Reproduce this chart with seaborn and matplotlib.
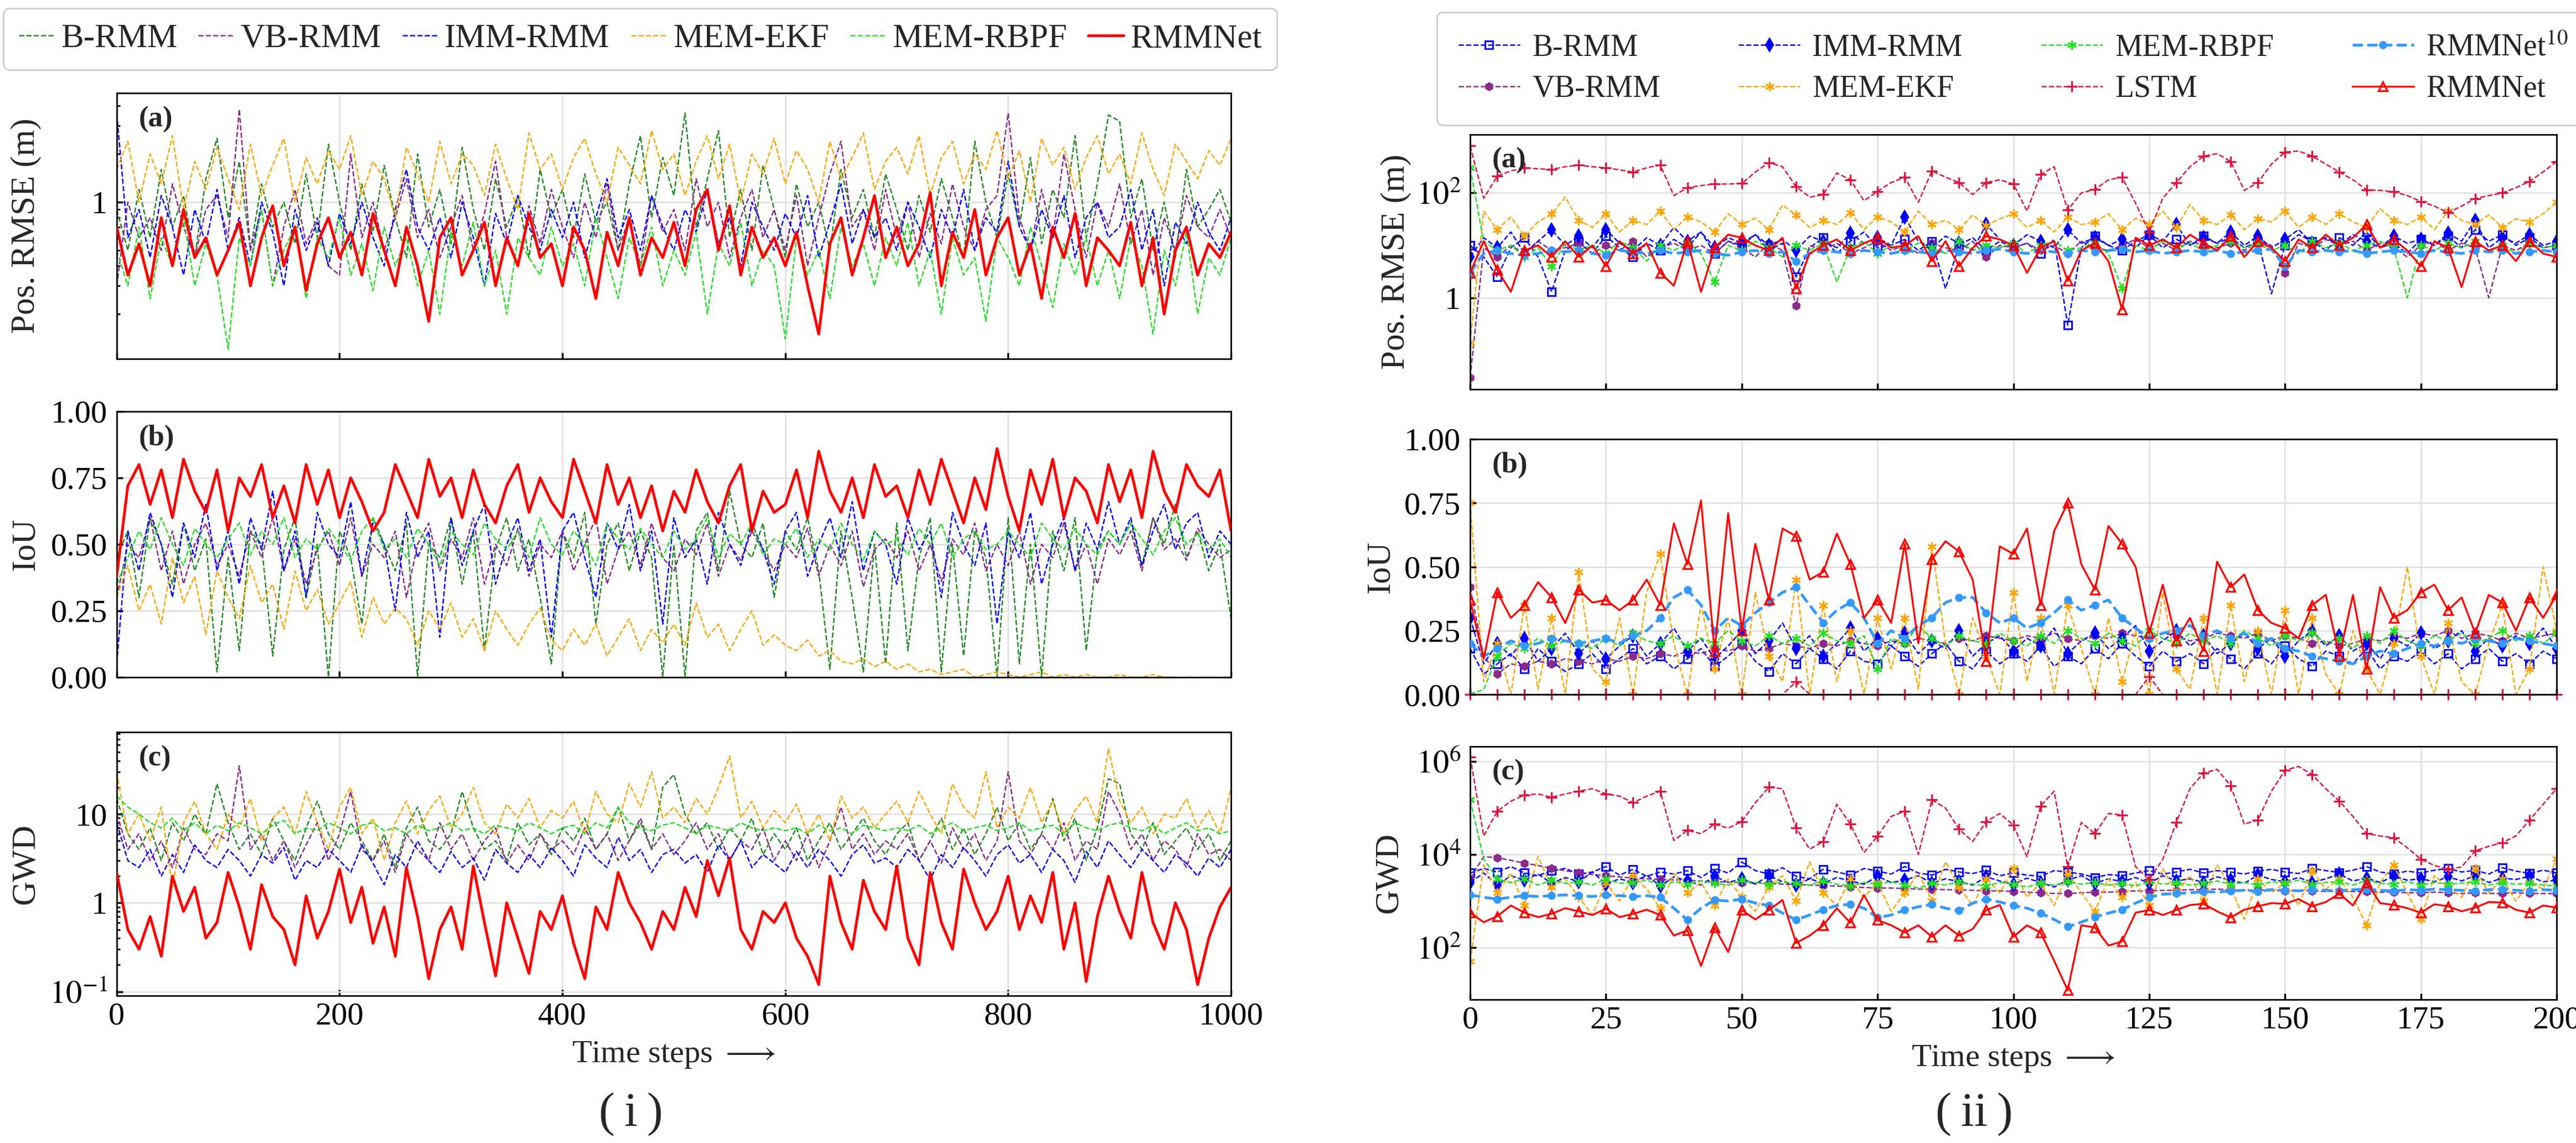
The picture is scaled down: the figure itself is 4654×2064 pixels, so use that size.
import numpy as np
import matplotlib
matplotlib.use("Agg")
import matplotlib.pyplot as plt
from matplotlib.ticker import FixedLocator, FuncFormatter, LogLocator, NullFormatter, FormatStrFormatter
import seaborn as sns

# ---------------- time axes ----------------
steps_i = np.arange(0, 1001, 10)        # run (i): 1000 steps, read every 10
steps_ii = np.arange(0, 200.01, 2.5)    # run (ii): 200 steps, read every 2.5

# ---------------- (i) Pos. RMSE ----------------
rmse_i_brmm = [0.9, 0.5, 1.2, 0.6, 1.6, 0.7, 1.1, 0.45, 1.4, 2.5,
               0.8, 1.8, 0.5, 1.3, 0.7, 1.0, 0.55, 1.5, 0.6, 2.3,
               1.0, 0.5, 1.3, 0.65, 1.7, 0.8, 0.45, 2.0, 0.7, 1.2,
               0.55, 2.2, 0.9, 0.5, 1.4, 0.7, 1.1, 0.45, 1.6, 0.8,
               1.2, 0.6, 1.5, 0.75, 1.0, 0.5, 1.3, 2.6, 0.8, 1.9,
               1.1, 3.6, 0.7, 1.4, 2.8, 0.6, 1.2, 0.5, 1.7, 0.9,
               0.45, 1.3, 0.7, 1.0, 0.5, 1.6, 0.8, 1.2, 0.6, 1.5,
               0.9, 0.5, 1.1, 0.65, 1.4, 0.8, 0.45, 2.4, 1.0, 0.6,
               1.5, 0.7, 1.9, 0.55, 1.2, 0.8, 2.6, 0.6, 1.3, 3.5,
               3.2, 0.8, 1.4, 0.5, 1.0, 0.45, 1.6, 0.7, 0.9, 1.2,
               0.75]
rmse_i_vbrmm = [0.3, 1.0, 0.6, 0.8, 0.5, 1.3, 0.7, 0.45, 0.9, 1.1,
                0.6, 3.8, 0.5, 0.9, 0.3, 0.7, 1.2, 0.55, 0.8, 0.4,
                0.35, 2.0, 0.6, 1.0, 0.5, 0.8, 1.4, 0.6, 0.9, 0.45,
                0.7, 1.1, 0.5, 0.85, 1.8, 0.6, 0.4, 0.95, 0.55, 1.2,
                0.7, 0.45, 1.0, 0.6, 1.3, 0.5, 0.8, 0.4, 1.1, 0.65,
                0.9, 0.5, 1.4, 0.7, 1.0, 0.45, 0.8, 1.2, 0.6, 0.9,
                0.5, 1.1, 0.4, 0.8, 1.5, 2.4, 0.7, 0.9, 0.5, 1.2,
                0.6, 1.0, 0.45, 0.85, 0.55, 1.3, 0.7, 0.5, 0.9, 1.1,
                3.6, 0.8, 0.5, 1.2, 0.6, 2.0, 0.9, 0.45, 1.0, 0.7,
                1.3, 0.55, 0.9, 0.35, 0.8, 0.5, 1.1, 0.7, 0.6, 0.9,
                0.6]
rmse_i_imm = [3.6, 0.6, 0.9, 0.45, 1.1, 0.7, 0.35, 0.9, 0.55, 1.2,
              0.5, 0.8, 0.4, 1.0, 0.65, 0.3, 0.9, 0.5, 0.75, 0.4,
              0.85, 0.55, 1.0, 0.6, 0.4, 0.9, 1.6, 0.7, 0.5, 0.8,
              0.45, 1.0, 0.6, 0.3, 0.85, 0.55, 1.1, 0.7, 0.5, 0.9,
              0.6, 1.0, 0.45, 0.8, 1.4, 0.6, 0.9, 0.5, 1.1, 0.7,
              0.5, 0.9, 0.65, 1.2, 0.55, 0.8, 0.4, 1.0, 0.7, 0.5,
              0.85, 0.6, 1.1, 0.45, 0.75, 1.3, 0.55, 0.9, 0.6, 0.8,
              0.5, 1.0, 0.7, 0.45, 0.9, 0.6, 1.2, 0.5, 0.8, 0.65,
              1.8, 0.7, 0.5, 0.9, 0.6, 1.1, 0.45, 0.8, 1.0, 0.6,
              0.7, 1.2, 0.5, 0.9, 0.3, 0.75, 0.55, 1.0, 0.65, 0.5,
              0.8]
rmse_i_ekf = [1.6, 2.4, 1.0, 2.0, 1.3, 2.6, 0.9, 1.8, 1.2, 2.2,
              1.4, 0.9, 2.3, 1.1, 1.7, 2.5, 1.0, 1.9, 1.3, 2.1,
              1.6, 2.6, 1.1, 1.8, 1.4, 0.8, 2.2, 1.5, 1.0, 2.4,
              1.3, 2.0, 1.7, 1.1, 2.3, 1.4, 0.9, 2.7, 1.6, 2.0,
              1.2, 1.9, 2.5, 1.5, 1.0, 2.2, 1.7, 1.3, 2.8, 1.6,
              2.0, 1.1, 1.8, 2.6, 1.4, 2.3, 1.0, 2.0, 1.5, 2.5,
              1.3, 2.1, 1.6, 1.0, 2.4, 1.4, 1.9, 2.7, 1.2, 1.8,
              2.2, 1.5, 2.6, 1.1, 1.9, 2.4, 1.3, 2.0, 1.6, 2.8,
              1.4, 2.1, 1.0, 2.5, 1.7, 2.2, 1.2, 1.9, 2.6, 1.5,
              2.0, 1.3, 2.7, 1.6, 1.1, 2.3, 1.8, 1.4, 2.1, 1.7,
              2.5]
rmse_i_rbpf = [0.5, 0.3, 0.7, 0.25, 0.6, 0.4, 0.8, 0.3, 0.55, 0.35,
               0.12, 0.6, 0.4, 0.9, 0.3, 0.5, 0.7, 0.25, 0.6, 0.45,
               0.8, 0.35, 0.55, 0.28, 0.7, 0.4, 0.6, 0.3, 0.5, 0.2,
               0.65, 0.4, 0.75, 0.3, 0.5, 0.2, 0.6, 0.45, 0.35, 0.7,
               0.4, 0.55, 0.3, 0.8, 0.45, 0.25, 0.6, 0.4, 0.7, 0.3,
               0.5, 0.35, 0.65, 0.2, 0.55, 0.4, 0.75, 0.3, 0.5, 0.4,
               0.14, 0.6, 0.35, 0.5, 0.25, 0.7, 0.4, 0.55, 0.3, 0.6,
               0.4, 0.75, 0.3, 0.5, 0.2, 0.6, 0.35, 0.45, 0.18, 0.6,
               0.45, 0.3, 0.7, 0.4, 0.22, 0.55, 0.35, 0.6, 0.3, 0.5,
               0.25, 0.6, 0.4, 0.15, 0.5, 0.3, 0.65, 0.2, 0.45, 0.35,
               0.6]
rmse_i_net = [0.7, 0.35, 0.55, 0.3, 0.8, 0.4, 0.9, 0.45, 0.6, 0.35,
              0.5, 0.75, 0.3, 0.6, 0.95, 0.4, 0.7, 0.28, 0.55, 0.8,
              0.45, 0.65, 0.35, 0.85, 0.5, 0.3, 0.7, 0.4, 0.18, 0.6,
              0.8, 0.35, 0.5, 0.75, 0.3, 0.6, 0.4, 0.85, 0.45, 0.55,
              0.3, 0.7, 0.5, 0.25, 0.65, 0.4, 0.8, 0.35, 0.6, 0.45,
              0.75, 0.4, 0.9, 1.2, 0.5, 0.95, 0.35, 0.7, 0.45, 0.6,
              0.4, 0.65, 0.3, 0.15, 0.55, 0.8, 0.35, 0.6, 1.1, 0.45,
              0.7, 0.4, 0.55, 1.15, 0.3, 0.65, 0.45, 0.9, 0.35, 0.6,
              0.8, 0.35, 0.55, 0.25, 0.7, 0.45, 0.85, 0.3, 0.6, 0.5,
              0.4, 0.75, 0.3, 0.6, 0.2, 0.5, 0.7, 0.35, 0.55, 0.45,
              0.65]

# ---------------- (i) IoU ----------------
iou_i_brmm = [0.45, 0.55, 0.3, 0.6, 0.5, 0.35, 0.58, 0.4, 0.52, 0.02,
              0.45, 0.1, 0.55, 0.5, 0.08, 0.48, 0.6, 0.3, 0.5, 0.0,
              0.55, 0.45, 0.2, 0.6, 0.5, 0.4, 0.58, 0.0, 0.5, 0.45,
              0.6, 0.35, 0.55, 0.1, 0.48, 0.6, 0.4, 0.52, 0.3, 0.05,
              0.55, 0.45, 0.62, 0.2, 0.5, 0.58, 0.4, 0.55, 0.45, 0.0,
              0.5, 0.0, 0.55, 0.62, 0.4, 0.7, 0.5, 0.45, 0.58, 0.3,
              0.55, 0.48, 0.6, 0.4, 0.03, 0.55, 0.3, 0.02, 0.5, 0.05,
              0.58, 0.1, 0.45, 0.6, 0.02, 0.5, 0.08, 0.55, 0.45, 0.0,
              0.6, 0.05, 0.5, 0.0, 0.55, 0.4, 0.6, 0.1, 0.48, 0.55,
              0.5, 0.58, 0.42, 0.6, 0.5, 0.65, 0.45, 0.55, 0.4, 0.5,
              0.22]
iou_i_vbrmm = [0.3, 0.5, 0.45, 0.6, 0.4, 0.55, 0.35, 0.5, 0.58, 0.42,
               0.5, 0.38, 0.55, 0.45, 0.6, 0.4, 0.52, 0.35, 0.48, 0.55,
               0.42, 0.6, 0.38, 0.5, 0.45, 0.55, 0.3, 0.5, 0.58, 0.4,
               0.52, 0.45, 0.6, 0.35, 0.5, 0.42, 0.56, 0.38, 0.5, 0.45,
               0.55, 0.4, 0.5, 0.6, 0.35, 0.48, 0.55, 0.42, 0.58, 0.45,
               0.4, 0.52, 0.46, 0.58, 0.38, 0.5, 0.44, 0.55, 0.48, 0.4,
               0.5, 0.45, 0.56, 0.38, 0.5, 0.42, 0.55, 0.34, 0.48, 0.52,
               0.45, 0.55, 0.4, 0.5, 0.36, 0.52, 0.46, 0.58, 0.4, 0.5,
               0.42, 0.55, 0.35, 0.5, 0.45, 0.58, 0.4, 0.5, 0.35, 0.52,
               0.46, 0.55, 0.4, 0.6, 0.48, 0.52, 0.44, 0.56, 0.5, 0.45,
               0.48]
iou_i_imm = [0.05, 0.55, 0.4, 0.62, 0.5, 0.3, 0.58, 0.45, 0.65, 0.4,
             0.55, 0.35, 0.6, 0.48, 0.7, 0.4, 0.55, 0.3, 0.62, 0.5,
             0.45, 0.66, 0.38, 0.58, 0.5, 0.25, 0.62, 0.45, 0.55, 0.15,
             0.6, 0.42, 0.55, 0.65, 0.35, 0.5, 0.6, 0.4, 0.52, 0.15,
             0.55, 0.62, 0.45, 0.3, 0.58, 0.48, 0.65, 0.4, 0.55, 0.2,
             0.6, 0.45, 0.52, 0.35, 0.62, 0.5, 0.42, 0.58, 0.48, 0.35,
             0.55, 0.62, 0.38, 0.5, 0.6, 0.45, 0.66, 0.4, 0.55, 0.5,
             0.35, 0.6, 0.48, 0.55, 0.3, 0.62, 0.5, 0.42, 0.58, 0.2,
             0.55, 0.45, 0.62, 0.35, 0.5, 0.6, 0.4, 0.58, 0.48, 0.66,
             0.5, 0.6, 0.42, 0.55, 0.65, 0.48, 0.58, 0.62, 0.45, 0.55,
             0.5]
iou_i_ekf = [0.3, 0.42, 0.25, 0.35, 0.2, 0.45, 0.28, 0.38, 0.16, 0.4,
             0.3, 0.22, 0.42, 0.28, 0.35, 0.18, 0.4, 0.25, 0.33, 0.2,
             0.28, 0.36, 0.15, 0.3, 0.2, 0.26, 0.22, 0.12, 0.25, 0.18,
             0.28, 0.15, 0.22, 0.1, 0.25, 0.18, 0.12, 0.2, 0.26, 0.14,
             0.1, 0.18, 0.12, 0.2, 0.08, 0.15, 0.22, 0.1, 0.18, 0.13,
             0.2, 0.12, 0.28, 0.15, 0.2, 0.1, 0.18, 0.25, 0.12, 0.16,
             0.12, 0.1, 0.14, 0.08, 0.1, 0.06, 0.05, 0.07, 0.04, 0.06,
             0.03, 0.05, 0.02, 0.03, 0.01, 0.02, 0.03, 0.0, 0.01, 0.02,
             0.01, 0.0, 0.01, 0.02, 0.0, 0.01, 0.0, 0.01, 0.0, 0.0,
             0.01, 0.0, 0.0, 0.01, 0.0, 0.0, 0.0, 0.0, 0.0, 0.0,
             0.0]
iou_i_rbpf = [0.35, 0.45, 0.55, 0.48, 0.6, 0.5, 0.42, 0.56, 0.5, 0.45,
              0.52, 0.58, 0.46, 0.55, 0.5, 0.6, 0.45, 0.52, 0.48, 0.56,
              0.5, 0.44, 0.55, 0.6, 0.48, 0.52, 0.45, 0.56, 0.5, 0.42,
              0.55, 0.5, 0.46, 0.58, 0.52, 0.48, 0.55, 0.45, 0.6, 0.5,
              0.46, 0.55, 0.5, 0.42, 0.58, 0.52, 0.48, 0.56, 0.5, 0.45,
              0.55, 0.48, 0.52, 0.6, 0.45, 0.54, 0.5, 0.58, 0.46, 0.52,
              0.5, 0.56, 0.45, 0.52, 0.48, 0.58, 0.5, 0.44, 0.55, 0.5,
              0.52, 0.46, 0.56, 0.5, 0.58, 0.45, 0.52, 0.55, 0.48, 0.5,
              0.55, 0.5, 0.45, 0.58, 0.52, 0.48, 0.56, 0.5, 0.46, 0.55,
              0.5, 0.58, 0.52, 0.46, 0.55, 0.6, 0.5, 0.54, 0.48, 0.52,
              0.45]
iou_i_net = [0.38, 0.72, 0.8, 0.65, 0.78, 0.6, 0.82, 0.7, 0.62, 0.78,
             0.55, 0.75, 0.68, 0.8, 0.6, 0.72, 0.58, 0.8, 0.65, 0.78,
             0.6, 0.75, 0.66, 0.55, 0.62, 0.8, 0.7, 0.6, 0.82, 0.68,
             0.75, 0.6, 0.78, 0.65, 0.58, 0.72, 0.8, 0.62, 0.75, 0.66,
             0.6, 0.82, 0.7, 0.58, 0.8, 0.65, 0.75, 0.6, 0.72, 0.55,
             0.7, 0.62, 0.78, 0.66, 0.58, 0.72, 0.8, 0.55, 0.7, 0.62,
             0.65, 0.78, 0.6, 0.85, 0.7, 0.62, 0.75, 0.6, 0.8, 0.68,
             0.72, 0.6, 0.78, 0.65, 0.82, 0.7, 0.58, 0.75, 0.63, 0.86,
             0.68, 0.55, 0.78, 0.65, 0.82, 0.6, 0.75, 0.7, 0.58, 0.8,
             0.66, 0.78, 0.6, 0.85, 0.7, 0.62, 0.8, 0.72, 0.68, 0.78,
             0.55]

# ---------------- (i) GWD ----------------
gwd_i_brmm = [15, 6, 4, 7, 3, 8, 5, 10, 6, 22,
              8, 4, 6, 3.5, 9, 5, 3, 7, 14, 6,
              4, 8, 5, 3, 6, 2.5, 7, 12, 5, 4,
              6, 18, 7, 4, 5, 3, 8, 4.5, 6, 3.5,
              7, 5, 9, 4, 6, 12, 5, 8, 4, 20,
              28, 10, 6, 8, 4, 7, 5, 9, 3.5, 6,
              4, 7, 3, 5, 8, 4, 6, 9, 5, 3.5,
              6, 8, 3, 5, 9, 4, 7, 3.5, 6, 12,
              5, 8, 4, 6, 15, 5, 9, 3, 7, 25,
              22, 6, 4, 8, 3.5, 5, 7, 4, 6, 3,
              5]
gwd_i_vbrmm = [10, 4, 6, 3, 5, 2.5, 7, 4, 3.5, 6,
               5, 35, 4, 6, 3, 5, 2.5, 4.5, 8, 3,
               6, 18, 4, 3, 5, 2.2, 6, 4, 3, 8,
               4, 6, 3, 5, 7, 2.8, 4.5, 3, 6, 4,
               5, 3.5, 7, 4, 6, 3, 5, 9, 4, 6,
               3.5, 5, 8, 4, 6, 3, 5, 4, 7, 3,
               5, 3, 6, 2.5, 5, 12, 4, 6, 3.5, 5,
               4, 6, 3, 5, 2.8, 7, 4, 6, 3, 5,
               30, 5, 3.5, 6, 4, 8, 3, 5, 4, 18,
               10, 4, 6, 3, 5, 4, 2.5, 6, 3.5, 4,
               3]
gwd_i_imm = [8, 3, 2.5, 4, 2, 3.5, 2.2, 4.5, 3, 2.5,
             4, 3, 2, 3.5, 2.8, 4.2, 1.8, 3, 2.5, 4,
             3, 2.2, 4.5, 2.8, 1.6, 3.5, 2.5, 5, 3, 2.2,
             3.8, 2.5, 3.2, 1.8, 4, 2.8, 2.2, 3.5, 2.5, 4.2,
             3, 2, 4.5, 3.2, 2.5, 5.5, 3, 4, 2.2, 3.5,
             4, 2.8, 3.5, 2.2, 4.5, 3, 5, 2.5, 3.5, 2.8,
             2.2, 3.8, 2.5, 4, 3, 2, 3.5, 4.5, 2.8, 3.2,
             2.5, 4, 3, 1.8, 3.5, 2.5, 4.2, 3, 2, 3.5,
             4.5, 2.8, 3.5, 2.2, 4, 3, 1.7, 3.8, 2.5, 5,
             3.5, 2.5, 4, 3, 2.2, 3.5, 2.8, 2, 3.2, 2.5,
             4]
gwd_i_ekf = [30, 6, 10, 5, 12, 1.5, 8, 14, 6, 4,
             10, 7, 15, 5, 9, 12, 6, 18, 8, 4,
             12, 20, 6, 9, 3, 8, 14, 6, 11, 16,
             7, 10, 20, 8, 6, 13, 9, 15, 7, 11,
             9, 14, 6, 18, 10, 8, 22, 12, 30, 9,
             12, 8, 15, 10, 20, 45, 9, 14, 7, 11,
             8, 13, 6, 10, 5, 16, 9, 12, 7, 10,
             14, 8, 18, 10, 6, 22, 12, 9, 30, 7,
             12, 9, 20, 8, 14, 6, 11, 16, 8, 55,
             14, 8, 12, 6, 10, 9, 15, 7, 11, 6,
             20]
gwd_i_rbpf = [16, 12, 10, 8, 7, 9, 6.5, 8, 6, 7.5,
              6.5, 8, 7, 6, 7.5, 8.5, 6, 7, 6.5, 8,
              7, 6, 7.5, 8, 6.5, 7, 6, 7.5, 6.5, 7,
              8, 6.5, 7, 6, 7.5, 7, 6.5, 8, 7, 6,
              7, 7.5, 6, 8, 7, 12, 8, 7, 6.5, 7.5,
              8, 7, 6, 7.5, 7, 6.5, 8, 7, 6.5, 7,
              6.5, 7, 6, 7.5, 6.5, 7, 6, 7.5, 7, 6.5,
              7, 6.5, 7.5, 6, 7, 8, 6.5, 7, 7.5, 6.5,
              7, 8, 6.5, 7, 7.5, 6, 8, 7, 6.5, 7.5,
              8, 7, 6.5, 7.5, 6, 7, 8, 6.5, 7, 6,
              6.5]
gwd_i_net = [2.2, 0.5, 0.3, 0.7, 0.25, 2.0, 0.8, 1.5, 0.4, 0.6,
             2.2, 0.9, 0.3, 1.6, 0.7, 0.5, 0.2, 1.2, 0.4, 0.8,
             2.4, 0.6, 1.5, 0.35, 0.9, 0.25, 2.5, 0.7, 0.14, 0.5,
             0.9, 0.3, 2.6, 0.6, 0.15, 1.0, 0.4, 0.16, 0.8, 0.5,
             1.2, 0.35, 0.14, 0.9, 0.5, 2.2, 1.0, 0.6, 0.3, 0.8,
             0.5, 1.5, 0.7, 3.0, 1.2, 3.2, 0.5, 0.3, 0.8, 0.6,
             1.0, 0.4, 0.25, 0.12, 2.0, 0.6, 0.3, 1.8, 0.8, 0.5,
             2.6, 0.4, 0.2, 2.2, 0.6, 0.3, 2.4, 1.0, 0.5, 0.8,
             2.0, 0.5, 1.2, 0.6, 2.2, 0.3, 1.0, 0.13, 0.7, 2.0,
             0.8, 0.4, 2.2, 0.6, 0.3, 1.0, 0.5, 0.12, 0.4, 0.9,
             1.5]

# ---------------- (ii) Pos. RMSE ----------------
rmse_ii_brmm = [10, 6, 2.5, 9, 14, 6, 1.3, 8,
                12, 7, 15, 9, 6, 11, 8, 13,
                9, 18, 7, 12, 10, 16, 8, 11,
                2.5, 9, 14, 7, 12, 18, 9, 10,
                13, 8, 12, 1.5, 10, 14, 8, 12,
                9, 11, 7, 13, 0.3, 9, 15, 10,
                8, 12, 16, 9, 13, 10, 15, 11,
                14, 9, 12, 1.2, 10, 16, 12, 8,
                14, 10, 18, 9, 11, 7, 13, 10,
                15, 9, 20, 12, 16, 10, 14, 9,
                10]
rmse_ii_vbrmm = [0.03, 9, 6, 10, 7, 12, 8, 9,
                 11, 7, 10, 8, 12, 6, 9, 11,
                 8, 10, 7, 12, 9, 6, 11, 8,
                 0.7, 10, 8, 11, 7, 9, 12, 8,
                 10, 7, 11, 9, 8, 12, 6, 10,
                 9, 11, 8, 10, 7, 12, 9, 8,
                 10, 13, 9, 11, 8, 12, 10, 9,
                 11, 8, 12, 10, 3, 11, 9, 13,
                 10, 12, 8, 11, 9, 6, 10, 12,
                 8, 11, 9, 1.0, 10, 8, 11, 9,
                 10]
rmse_ii_imm = [6, 14, 9, 18, 7, 12, 20, 10,
               15, 9, 20, 11, 8, 14, 10, 22,
               12, 18, 9, 14, 11, 16, 10, 13,
               8, 15, 12, 9, 17, 11, 14, 10,
               35, 12, 9, 15, 11, 8, 25, 13,
               10, 16, 12, 9, 20, 11, 14, 10,
               13, 9, 16, 12, 25, 10, 14, 11,
               18, 10, 15, 9, 13, 20, 11, 14,
               10, 16, 12, 9, 15, 11, 13, 10,
               17, 12, 30, 9, 14, 11, 16, 10,
               12]
rmse_ii_ekf = [0.14, 45, 20, 35, 15, 28, 40, 83,
               30, 22, 40, 18, 30, 25, 45, 20,
               35, 28, 18, 40, 25, 33, 20, 59,
               38, 22, 30, 25, 42, 20, 35, 28,
               18, 45, 25, 30, 20, 38, 24, 32,
               40, 22, 30, 18, 35, 25, 28, 40,
               20, 33, 25, 45, 22, 60, 30, 25,
               38, 20, 32, 28, 45, 22, 35, 25,
               40, 28, 22, 50, 30, 25, 35, 20,
               45, 30, 25, 38, 22, 32, 28, 40,
               66]
rmse_ii_rbpf = [300, 12, 8, 10, 6, 9, 4, 11,
                8, 10, 7, 12, 9, 5, 10, 8,
                11, 7, 2.0, 10, 8, 12, 9, 6,
                10, 8, 11, 2.0, 9, 12, 7, 10,
                8, 11, 9, 7, 12, 8, 10, 9,
                11, 7, 10, 12, 8, 9, 11, 7,
                1.5, 10, 8, 12, 9, 11, 8, 10,
                12, 9, 11, 8, 10, 7, 12, 9,
                11, 8, 10, 12, 9, 1.0, 10, 8,
                11, 9, 12, 8, 10, 7, 11, 9,
                10]
rmse_ii_lstm = [794, 79, 209, 263, 302, 288, 282, 316,
                339, 316, 302, 275, 251, 302, 339, 89,
                126, 138, 148, 148, 151, 251, 380, 316,
                132, 83, 93, 240, 178, 71, 107, 158,
                200, 66, 263, 200, 158, 93, 158, 178,
                148, 45, 224, 316, 47, 100, 117, 178,
                200, 63, 18, 79, 158, 316, 501, 562,
                398, 112, 158, 355, 603, 631, 501, 355,
                251, 178, 115, 112, 105, 89, 69, 56,
                42, 56, 78, 89, 100, 126, 166, 251,
                398]
rmse_ii_net10 = [3, 7, 8, 7, 6.5, 7, 8, 7.5,
                 8, 7, 6.5, 8, 7.5, 7, 8, 7,
                 7.5, 8, 7, 6.5, 7.5, 8, 7, 7.5,
                 5, 7, 8, 7.5, 7, 8, 7.5, 7,
                 8, 7.5, 7, 8, 7.5, 7, 8, 8.5,
                 7.5, 7, 8, 7.5, 7, 8, 7.5, 8,
                 8.5, 7.5, 8, 7, 7.5, 8, 7.5, 8,
                 7, 7.5, 8, 8.5, 4, 8, 7.5, 8,
                 7.5, 8, 7, 7.5, 8, 7.5, 7, 8,
                 7.5, 7, 8, 7.5, 8, 7, 7.5, 8,
                 7.5]
rmse_ii_net = [3.0, 12, 3.4, 1.3, 8, 10, 6, 12,
               6, 10, 4, 12, 7, 11, 3, 1.7,
               12, 1.3, 9, 16, 14, 10, 8, 14,
               1.5, 7, 10, 13, 8, 11, 14, 9,
               10, 15, 5, 12, 4, 9, 15, 13,
               10, 3, 9, 12, 2.1, 8, 11, 5,
               0.6, 14, 10, 13, 9, 16, 11, 8,
               15, 6, 12, 9, 5, 13, 9, 16,
               10, 14, 25, 9, 13, 8, 4, 12,
               9, 1.6, 12, 8, 10, 5, 12, 7,
               6]

# ---------------- (ii) IoU ----------------
iou_ii_brmm = [0.18, 0.08, 0.12, 0.16, 0.10, 0.18, 0.13, 0.09,
               0.12, 0.16, 0.10, 0.14, 0.18, 0.12, 0.15, 0.10,
               0.14, 0.18, 0.11, 0.15, 0.20, 0.13, 0.09, 0.16,
               0.12, 0.18, 0.14, 0.10, 0.17, 0.13, 0.12, 0.19,
               0.15, 0.11, 0.16, 0.20, 0.13, 0.10, 0.17, 0.12,
               0.16, 0.13, 0.19, 0.11, 0.15, 0.12, 0.18, 0.14,
               0.20, 0.15, 0.11, 0.17, 0.13, 0.16, 0.12, 0.18,
               0.14, 0.10, 0.16, 0.12, 0.19, 0.14, 0.11, 0.17,
               0.15, 0.12, 0.18, 0.10, 0.15, 0.13, 0.17, 0.12,
               0.16, 0.10, 0.14, 0.18, 0.13, 0.16, 0.12, 0.17,
               0.14]
iou_ii_vbrmm = [0.42, 0.15, 0.08, 0.12, 0.11, 0.13, 0.12, 0.14,
                0.13, 0.12, 0.14, 0.13, 0.15, 0.14, 0.16, 0.15,
                0.17, 0.16, 0.18, 0.17, 0.19, 0.17, 0.18, 0.20,
                0.19, 0.18, 0.20, 0.19, 0.21, 0.20, 0.19, 0.21,
                0.20, 0.22, 0.21, 0.20, 0.22, 0.21, 0.23, 0.22,
                0.21, 0.23, 0.22, 0.24, 0.22, 0.21, 0.23, 0.22,
                0.24, 0.23, 0.22, 0.24, 0.23, 0.21, 0.22, 0.24,
                0.23, 0.22, 0.24, 0.21, 0.23, 0.22, 0.20, 0.21,
                0.19, 0.20, 0.22, 0.21, 0.23, 0.22, 0.24, 0.23,
                0.25, 0.22, 0.24, 0.23, 0.21, 0.24, 0.22, 0.23,
                0.24]
iou_ii_imm = [0.30, 0.12, 0.20, 0.15, 0.22, 0.13, 0.18, 0.24,
              0.16, 0.21, 0.14, 0.19, 0.23, 0.15, 0.20, 0.26,
              0.17, 0.22, 0.14, 0.19, 0.25, 0.16, 0.21, 0.28,
              0.18, 0.23, 0.15, 0.20, 0.26, 0.17, 0.22, 0.19,
              0.24, 0.16, 0.21, 0.18, 0.25, 0.15, 0.20, 0.23,
              0.17, 0.22, 0.19, 0.26, 0.16, 0.21, 0.24, 0.18,
              0.22, 0.27, 0.17, 0.21, 0.25, 0.19, 0.23, 0.16,
              0.20, 0.24, 0.18, 0.22, 0.15, 0.21, 0.25, 0.19,
              0.23, 0.17, 0.20, 0.14, 0.22, 0.19, 0.24, 0.18,
              0.21, 0.25, 0.17, 0.22, 0.19, 0.23, 0.20, 0.26,
              0.18]
iou_ii_ekf = [0.75, 0.05, 0.20, 0.0, 0.35, 0.02, 0.30, 0.0,
              0.48, 0.10, 0.05, 0.30, 0.0, 0.40, 0.55, 0.20,
              0.0, 0.35, 0.10, 0.30, 0.0, 0.40, 0.15, 0.05,
              0.45, 0.0, 0.35, 0.05, 0.25, 0.0, 0.30, 0.10,
              0.30, 0.02, 0.58, 0.20, 0.0, 0.30, 0.15, 0.0,
              0.40, 0.05, 0.30, 0.0, 0.35, 0.18, 0.0, 0.30,
              0.05, 0.25, 0.0, 0.40, 0.10, 0.02, 0.30, 0.0,
              0.35, 0.05, 0.25, 0.0, 0.33, 0.0, 0.30, 0.08,
              0.0, 0.25, 0.10, 0.0, 0.20, 0.50, 0.15, 0.0,
              0.28, 0.05, 0.0, 0.20, 0.35, 0.0, 0.10, 0.50,
              0.25]
iou_ii_rbpf = [0.0, 0.02, 0.15, 0.20, 0.18, 0.22, 0.19, 0.21,
               0.20, 0.18, 0.22, 0.19, 0.24, 0.21, 0.20, 0.23,
               0.19, 0.22, 0.20, 0.25, 0.21, 0.19, 0.23, 0.20,
               0.22, 0.19, 0.24, 0.21, 0.20, 0.23, 0.10, 0.22,
               0.20, 0.27, 0.22, 0.19, 0.23, 0.21, 0.20, 0.24,
               0.21, 0.19, 0.23, 0.20, 0.25, 0.22, 0.20, 0.24,
               0.21, 0.19, 0.25, 0.22, 0.20, 0.24, 0.21, 0.23,
               0.20, 0.25, 0.22, 0.19, 0.23, 0.21, 0.24, 0.20,
               0.22, 0.18, 0.23, 0.20, 0.25, 0.21, 0.19, 0.23,
               0.21, 0.24, 0.20, 0.22, 0.25, 0.21, 0.23, 0.20,
               0.24]
iou_ii_lstm = [0.0, 0.0, 0.0, 0.0, 0.0, 0.0, 0.0, 0.0,
               0.0, 0.0, 0.0, 0.0, 0.0, 0.0, 0.0, 0.0,
               0.0, 0.0, 0.0, 0.0, 0.0, 0.0, 0.0, 0.0,
               0.05, 0.0, 0.0, 0.0, 0.0, 0.0, 0.0, 0.0,
               0.0, 0.0, 0.0, 0.0, 0.0, 0.0, 0.0, 0.0,
               0.0, 0.0, 0.0, 0.0, 0.0, 0.0, 0.0, 0.0,
               0.0, 0.0, 0.07, 0.0, 0.0, 0.0, 0.0, 0.0,
               0.0, 0.0, 0.0, 0.0, 0.0, 0.0, 0.0, 0.0,
               0.0, 0.0, 0.0, 0.0, 0.0, 0.0, 0.0, 0.0,
               0.0, 0.0, 0.0, 0.0, 0.0, 0.0, 0.0, 0.0,
               0.0]
iou_ii_net10 = [0.20, 0.15, 0.18, 0.21, 0.19, 0.20, 0.22, 0.21,
                0.20, 0.21, 0.22, 0.20, 0.23, 0.25, 0.30, 0.38,
                0.41, 0.35, 0.25, 0.30, 0.27, 0.32, 0.36, 0.40,
                0.42, 0.35, 0.28, 0.33, 0.36, 0.30, 0.20, 0.25,
                0.22, 0.27, 0.30, 0.36, 0.38, 0.38, 0.32, 0.28,
                0.30, 0.26, 0.28, 0.32, 0.37, 0.33, 0.35, 0.37,
                0.30, 0.26, 0.22, 0.24, 0.25, 0.27, 0.23, 0.25,
                0.22, 0.24, 0.20, 0.22, 0.18, 0.17, 0.15, 0.14,
                0.13, 0.12, 0.15, 0.17, 0.16, 0.18, 0.20, 0.19,
                0.21, 0.20, 0.22, 0.21, 0.20, 0.22, 0.21, 0.20,
                0.19]
iou_ii_net = [0.37, 0.14, 0.40, 0.30, 0.35, 0.44, 0.38, 0.28,
              0.41, 0.36, 0.37, 0.33, 0.37, 0.45, 0.35, 0.67,
              0.51, 0.76, 0.17, 0.71, 0.25, 0.59, 0.37, 0.65,
              0.62, 0.45, 0.48, 0.63, 0.51, 0.30, 0.37, 0.28,
              0.59, 0.20, 0.53, 0.60, 0.56, 0.45, 0.13, 0.58,
              0.55, 0.65, 0.35, 0.64, 0.75, 0.51, 0.41, 0.66,
              0.59, 0.50, 0.24, 0.43, 0.21, 0.30, 0.17, 0.52,
              0.42, 0.47, 0.33, 0.28, 0.26, 0.22, 0.35, 0.39,
              0.15, 0.39, 0.10, 0.42, 0.30, 0.33, 0.40, 0.43,
              0.33, 0.38, 0.24, 0.39, 0.36, 0.25, 0.38, 0.30,
              0.39]

# ---------------- (ii) GWD ----------------
gwd_ii_brmm = [4000, 5000, 4200, 5500, 4000, 3500, 4500, 5000,
               3800, 4200, 5500, 3600, 4800, 3400, 4200, 3800,
               4500, 3200, 5000, 4000, 6900, 4500, 3800, 5200,
               3400, 3000, 4800, 4200, 3600, 5000, 4400, 3800,
               5500, 4000, 3600, 4800, 4200, 3900, 4600, 3500,
               4000, 3600, 3400, 4500, 4200, 3800, 3200, 3700,
               3500, 4000, 4500, 3800, 4200, 4800, 4000, 4500,
               4200, 3800, 4400, 4800, 4200, 3900, 5000, 4500,
               4100, 4600, 5500, 4200, 3800, 4400, 4000, 4600,
               5000, 4200, 4600, 3800, 5200, 4400, 3900, 4600,
               4000]
gwd_ii_vbrmm = [3000, 9000, 8500, 7500, 6500, 5800, 5000, 4500,
                4000, 3700, 3500, 3300, 3100, 3000, 2900, 2850,
                2800, 2700, 2600, 2550, 2500, 2450, 2400, 2300,
                2250, 2200, 2150, 2100, 2000, 1950, 1900, 1900,
                1850, 1800, 1800, 1750, 1750, 1700, 1650, 1650,
                1600, 1550, 1500, 1450, 1450, 1500, 1550, 1550,
                1600, 1650, 1650, 1700, 1700, 1750, 1750, 1800,
                1750, 1700, 1750, 1700, 1650, 1700, 1650, 1600,
                1650, 1600, 1600, 1550, 1550, 1500, 1500, 1550,
                1500, 1450, 1500, 1450, 1450, 1500, 1450, 1450,
                1450]
gwd_ii_imm = [2500, 4000, 2200, 3500, 2800, 3800, 2400, 3200,
              2600, 4200, 2300, 3000, 2500, 3600, 2100, 3300,
              2700, 2200, 3400, 2500, 3000, 2300, 3500, 2600,
              2200, 3000, 2400, 3200, 2700, 2300, 3400, 2500,
              2800, 3500, 2400, 3000, 2600, 2200, 3300, 2700,
              2300, 3100, 2500, 2000, 2800, 3500, 2400, 3000,
              2600, 3200, 2400, 3500, 2700, 3000, 2500, 3300,
              2800, 2400, 3600, 2900, 2600, 3200, 2500, 3000,
              3800, 2700, 3100, 2500, 3400, 2800, 3000, 2600,
              3300, 2700, 3500, 2500, 3100, 2900, 3400, 2600,
              2800]
gwd_ii_ekf = [50, 6000, 1500, 4000, 800, 9000, 2000, 3000,
              1200, 500, 2500, 1000, 3500, 1800, 700, 4000,
              1500, 2500, 800, 3000, 1200, 600, 2000, 3500,
              1000, 7000, 1500, 800, 3000, 1200, 2500, 600,
              1500, 4000, 1000, 7000, 2000, 800, 3000, 1500,
              5000, 1200, 2500, 800, 4000, 1500, 600, 3000,
              1200, 2500, 800, 5000, 1500, 3500, 1000, 6000,
              2000, 400, 3000, 1500, 2500, 800, 4500, 1800,
              3000, 1200, 300, 2500, 6000, 1500, 400, 3500,
              2000, 1200, 5000, 1500, 3000, 1000, 2500, 1800,
              8000]
gwd_ii_rbpf = [1.5e5, 8000, 3000, 2500, 3000, 2200, 2800, 2400,
               2600, 2200, 3000, 2400, 2500, 2800, 2200, 2600,
               2300, 2700, 2400, 2200, 2800, 2500, 2300, 2600,
               2400, 2200, 2700, 2300, 2100, 2500, 2300, 2600,
               2200, 1900, 2400, 2200, 2600, 2300, 2100, 2500,
               2300, 2000, 2400, 2200, 2600, 2300, 2500, 2200,
               2400, 2100, 2600, 2300, 2500, 2200, 2400, 2700,
               2300, 2500, 2200, 2600, 2400, 2800, 2300, 2500,
               2600, 2200, 2800, 2400, 2300, 2600, 2200, 2500,
               2300, 2400, 2600, 2200, 2500, 2300, 2400, 2200,
               2100]
gwd_ii_lstm = [1.26e6, 2.5e4, 8.5e4, 1.4e5, 1.9e5, 2.0e5, 1.7e5, 2.0e5,
               2.3e5, 2.6e5, 2.0e5, 1.8e5, 1.3e5, 1.8e5, 2.3e5, 2.0e4,
               3.3e4, 2.8e4, 4.5e4, 3.7e4, 5.1e4, 1.3e5, 2.8e5, 2.6e5,
               3.7e4, 1.3e4, 1.9e4, 1.2e5, 4.5e4, 1.1e4, 2.5e4, 6.6e4,
               8.5e4, 1.0e4, 1.5e5, 1.0e5, 3.5e4, 1.9e4, 5.1e4, 7.6e4,
               4.3e4, 8.9e3, 1.1e5, 2.3e5, 5.4e3, 4.9e4, 2.8e4, 7.6e4,
               7.1e4, 5.4e3, 2.9e3, 7.9e3, 4.9e4, 2.6e5, 5.6e5, 6.8e5,
               3.0e5, 4.5e4, 5.5e4, 2.3e5, 6.5e5, 7.8e5, 5.2e5, 2.6e5,
               1.4e5, 6.6e4, 2.8e4, 2.5e4, 2.3e4, 1.4e4, 7.9e3, 5.8e3,
               4.8e3, 5.4e3, 1.2e4, 1.5e4, 1.8e4, 2.5e4, 5.5e4, 1.2e5,
               2.6e5]
gwd_ii_net10 = [1350, 1200, 1100, 1200, 1300, 1250, 1300, 1350,
                1300, 1250, 1350, 1300, 1250, 1300, 1200, 700,
                390, 700, 1050, 1000, 1100, 900, 800, 550,
                390, 500, 650, 800, 850, 700, 440, 500,
                640, 750, 850, 700, 620, 900, 1100, 950,
                800, 700, 550, 400, 280, 350, 450, 550,
                650, 900, 1200, 1400, 1450, 1500, 1600, 1550,
                1650, 1700, 1600, 1750, 1700, 1650, 1750, 1700,
                1650, 1750, 1800, 1700, 1650, 1750, 1700, 1800,
                1750, 1700, 1650, 1750, 1800, 1700, 1650, 1750,
                1700]
gwd_ii_net = [560, 350, 470, 800, 560, 450, 530, 700,
              600, 500, 680, 450, 530, 650, 500, 180,
              235, 40, 270, 80, 640, 400, 640, 1050,
              125, 180, 300, 700, 340, 1350, 390, 300,
              210, 300, 170, 300, 180, 250, 640, 820,
              170, 300, 210, 52, 12, 300, 270, 110,
              135, 560, 640, 500, 640, 820, 870, 600,
              440, 650, 770, 900, 870, 1100, 770, 950,
              1450, 800, 2500, 900, 820, 700, 560, 850,
              770, 600, 720, 950, 930, 650, 560, 800,
              720]

# ---------------- style ----------------
sns.set_theme(style="ticks")
plt.rcParams.update({
    "font.family": ["Liberation Serif", "DejaVu Sans"],
    "mathtext.fontset": "stix",
    "axes.edgecolor": "black",
    "axes.linewidth": 1.0,
    "xtick.direction": "in",
    "ytick.direction": "in",
    "xtick.major.size": 4,
    "ytick.major.size": 4,
    "xtick.minor.size": 2,
    "ytick.minor.size": 2,
    "xtick.major.pad": 4,
    "ytick.major.pad": 6,
    "xtick.color": "black",
    "ytick.color": "black",
    "xtick.labelsize": 21,
    "ytick.labelsize": 21,
})

C_GREEN = "#228b22"
C_PURPLE = "#8b2a8b"
C_BLUE = "#0000ff"
C_ORANGE = "#ffa500"
C_LIME = "#22e022"
C_RED = "#ff0000"
C_LBLUE = "#3399ff"
C_CRIMSON = "#dc143c"


def draw(ax, x, y, **kw):
    sns.lineplot(x=x, y=y, ax=ax, legend=False, estimator=None,
                 errorbar=None, sort=False, **kw)


def log_fmt(v, pos):
    if abs(v - 1) < 1e-9:
        return "1"
    if abs(v - 10) < 1e-9:
        return "10"
    return r"$10^{%d}$" % round(np.log10(v))


fig = plt.figure(figsize=(23.27, 10.32), dpi=200)

left_boxes = [[0.0453, 0.686, 0.4326, 0.2326],
              [0.0453, 0.4075, 0.4326, 0.2326],
              [0.0453, 0.1289, 0.4326, 0.2306]]
right_boxes = [[0.5707, 0.6594, 0.4218, 0.2229],
               [0.5707, 0.3924, 0.4218, 0.2234],
               [0.5707, 0.1255, 0.4218, 0.2214]]

# ---------------- (i) ----------------
left_data = [
    (rmse_i_brmm, rmse_i_vbrmm, rmse_i_imm, rmse_i_ekf, rmse_i_rbpf, rmse_i_net),
    (iou_i_brmm, iou_i_vbrmm, iou_i_imm, iou_i_ekf, iou_i_rbpf, iou_i_net),
    (gwd_i_brmm, gwd_i_vbrmm, gwd_i_imm, gwd_i_ekf, gwd_i_rbpf, gwd_i_net),
]
names_i = ["B-RMM", "VB-RMM", "IMM-RMM", "MEM-EKF", "MEM-RBPF", "RMMNet"]
colors_i = [C_GREEN, C_PURPLE, C_BLUE, C_ORANGE, C_LIME, C_RED]
ylabels = ["Pos. RMSE (m)", "IoU", "GWD"]
tags = ["(a)", "(b)", "(c)"]

axes_i = []
for r in range(3):
    ax = fig.add_axes(left_boxes[r])
    axes_i.append(ax)
    for k, series in enumerate(left_data[r]):
        if names_i[k] == "RMMNet":
            draw(ax, steps_i, series, color=colors_i[k], linestyle="-",
                 linewidth=1.8, label=names_i[k], zorder=5)
        else:
            draw(ax, steps_i, series, color=colors_i[k], linestyle="--",
                 linewidth=0.9, label=names_i[k], zorder=2 + k * 0.1)
    ax.set_xlim(0, 1000)
    ax.xaxis.set_major_locator(FixedLocator([0, 200, 400, 600, 800, 1000]))

axes_i[0].set_yscale("log")
axes_i[0].set_ylim(0.105, 4.8)
axes_i[0].yaxis.set_major_locator(FixedLocator([1]))
axes_i[1].set_ylim(0, 1)
axes_i[1].yaxis.set_major_locator(FixedLocator([0, 0.25, 0.5, 0.75, 1.0]))
axes_i[1].yaxis.set_major_formatter(FormatStrFormatter("%.2f"))
axes_i[2].set_yscale("log")
axes_i[2].set_ylim(0.09, 84)
axes_i[2].yaxis.set_major_locator(FixedLocator([0.1, 1, 10]))

# ---------------- (ii) ----------------
right_data = [
    (rmse_ii_brmm, rmse_ii_vbrmm, rmse_ii_imm, rmse_ii_ekf, rmse_ii_rbpf,
     rmse_ii_lstm, rmse_ii_net10, rmse_ii_net),
    (iou_ii_brmm, iou_ii_vbrmm, iou_ii_imm, iou_ii_ekf, iou_ii_rbpf,
     iou_ii_lstm, iou_ii_net10, iou_ii_net),
    (gwd_ii_brmm, gwd_ii_vbrmm, gwd_ii_imm, gwd_ii_ekf, gwd_ii_rbpf,
     gwd_ii_lstm, gwd_ii_net10, gwd_ii_net),
]
names_ii = ["B-RMM", "VB-RMM", "IMM-RMM", "MEM-EKF", "MEM-RBPF", "LSTM",
            r"RMMNet$^{10}$", "RMMNet"]
styles_ii = [
    dict(color=C_BLUE, linestyle="--", linewidth=0.9, marker="s", markersize=5,
         markerfacecolor="none", markeredgecolor=C_BLUE, markeredgewidth=1.1),
    dict(color=C_PURPLE, linestyle="--", linewidth=0.9, marker="h", markersize=5,
         markerfacecolor=C_PURPLE, markeredgecolor=C_PURPLE, markeredgewidth=0.8),
    dict(color=C_BLUE, linestyle="--", linewidth=0.9, marker="d", markersize=6,
         markerfacecolor=C_BLUE, markeredgecolor=C_BLUE, markeredgewidth=0.8),
    dict(color=C_ORANGE, linestyle="--", linewidth=0.9, marker=(6, 2, 0), markersize=6,
         markerfacecolor=C_ORANGE, markeredgecolor=C_ORANGE, markeredgewidth=1.1),
    dict(color=C_LIME, linestyle="--", linewidth=0.9, marker=(6, 2, 0), markersize=6,
         markerfacecolor=C_LIME, markeredgecolor=C_LIME, markeredgewidth=1.1),
    dict(color=C_CRIMSON, linestyle="--", linewidth=0.9, marker="+", markersize=7,
         markerfacecolor=C_CRIMSON, markeredgecolor=C_CRIMSON, markeredgewidth=1.2),
    dict(color=C_LBLUE, linestyle="--", linewidth=1.8, marker="o", markersize=4.5,
         markerfacecolor=C_LBLUE, markeredgecolor=C_LBLUE, markeredgewidth=0.8),
    dict(color=C_RED, linestyle="-", linewidth=1.2, marker="^", markersize=6,
         markerfacecolor="none", markeredgecolor=C_RED, markeredgewidth=1.2),
]

axes_ii = []
for r in range(3):
    ax = fig.add_axes(right_boxes[r])
    axes_ii.append(ax)
    for k, series in enumerate(right_data[r]):
        kw = dict(styles_ii[k])
        draw(ax, steps_ii, series, markevery=2, label=names_ii[k],
             zorder=6 if k == 7 else 2 + k * 0.1,
             clip_on=not (r == 1 and k == 5), **kw)
    ax.set_xlim(0, 200)
    ax.xaxis.set_major_locator(FixedLocator([0, 25, 50, 75, 100, 125, 150, 175, 200]))

axes_ii[0].set_yscale("log")
axes_ii[0].set_ylim(0.018, 1300)
axes_ii[0].yaxis.set_major_locator(FixedLocator([1, 100]))
axes_ii[1].set_ylim(0, 1)
axes_ii[1].yaxis.set_major_locator(FixedLocator([0, 0.25, 0.5, 0.75, 1.0]))
axes_ii[1].yaxis.set_major_formatter(FormatStrFormatter("%.2f"))
axes_ii[2].set_yscale("log")
axes_ii[2].set_ylim(7.6, 2.1e6)
axes_ii[2].yaxis.set_major_locator(FixedLocator([1e2, 1e4, 1e6]))

# common axis cosmetics (label x = right edge of the rotated label)
label_x = [[-0.0676, -0.0676, -0.0676], [-0.054, -0.0683, -0.0606]]
for col, axes in enumerate([axes_i, axes_ii]):
    for r, ax in enumerate(axes):
        if ax.get_yscale() == "log":
            ax.yaxis.set_major_formatter(FuncFormatter(log_fmt))
            ax.yaxis.set_minor_locator(LogLocator(base=10, subs=np.arange(2, 10)))
            ax.yaxis.set_minor_formatter(NullFormatter())
        ax.grid(True, which="major", color="#e2e2e2", linewidth=1.0)
        ax.set_axisbelow(True)
        for sp in ax.spines.values():
            sp.set_visible(True)
            sp.set_color("black")
            sp.set_linewidth(1.0)
        ax.tick_params(which="both", top=False, right=False)
        ax.set_ylabel(ylabels[r], fontsize=22)
        ax.yaxis.set_label_coords(label_x[col][r], 0.5)
        ax.text(0.02, 0.95, tags[r], transform=ax.transAxes, fontsize=19,
                fontweight="bold", va="top", ha="left", zorder=10)
        if r < 2:
            ax.tick_params(labelbottom=False)
            ax.set_xlabel("")
        else:
            ax.set_xlabel(r"Time steps $\longrightarrow$", fontsize=21, labelpad=6)

# legends
h_i, l_i = axes_i[0].get_legend_handles_labels()
fig.legend(h_i, l_i, loc="center", bbox_to_anchor=(0.2485, 0.966), ncol=6,
           fontsize=22, handlelength=1.05, handletextpad=0.2, columnspacing=0.62,
           borderpad=0.45, frameon=True, fancybox=True, edgecolor="#cccccc",
           framealpha=1.0)

h_ii, l_ii = axes_ii[0].get_legend_handles_labels()
fig.legend(h_ii, l_ii, loc="center", bbox_to_anchor=(0.7815, 0.940), ncol=4,
           fontsize=20, handlelength=2.0, handletextpad=0.4, columnspacing=2.55,
           labelspacing=0.4, borderpad=0.7, frameon=True, fancybox=True,
           edgecolor="#cccccc", framealpha=1.0)

fig.text(0.245, 0.0252, "(\u2009i\u2009)", fontsize=31, ha="center", va="center")
fig.text(0.7664, 0.0252, "(\u2009ii\u2009)", fontsize=31, ha="center", va="center")

fig.savefig("out.png", dpi=200)
